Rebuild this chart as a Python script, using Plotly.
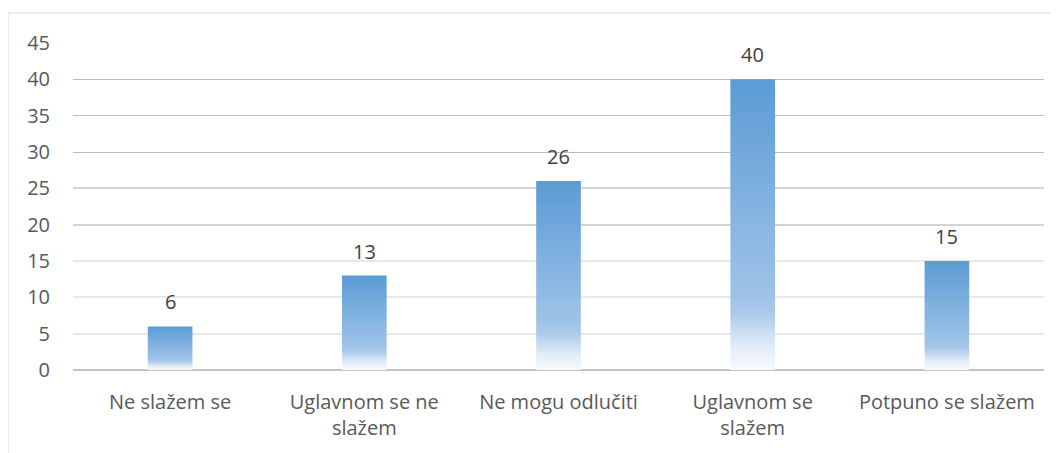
import plotly.graph_objects as go

categories = ["Ne slažem se", "Uglavnom se ne<br>slažem", "Ne mogu odlučiti", "Uglavnom se<br>slažem", "Potpuno se slažem"]
values = [6, 13, 26, 40, 15]
y_ticks = [0, 5, 10, 15, 20, 25, 30, 35, 40, 45]
grid_mid = [20, 25]
grid_light = [5, 10, 15]

BAR_W = 0.23
FONT = "Open Sans"
Y_RANGE = [0, 45]
grad = [[0.0, "#f7fafd"], [0.08, "#e3edf8"], [0.2, "#a9c9ea"], [0.25, "#9fc3e8"], [1.0, "#5b9bd5"]]

fig = go.Figure()
# invisible anchor traces so the overlay grid axes get drawn
for ax in ["y3", "y4"]:
    fig.add_trace(go.Scatter(x=[0], y=[0], yaxis=ax, mode="markers",
                             marker=dict(opacity=0), hoverinfo="skip", showlegend=False))

for i, v in enumerate(values):
    fig.add_trace(go.Scatter(
        x=[i - BAR_W / 2, i + BAR_W / 2, i + BAR_W / 2, i - BAR_W / 2, i - BAR_W / 2],
        y=[0, 0, v, v, 0],
        mode="lines", fill="toself", line=dict(width=0),
        fillgradient=dict(type="vertical", colorscale=grad),
        hoverinfo="skip", showlegend=False,
    ))

for i, v in enumerate(values):
    fig.add_annotation(x=i, y=v, text=str(v), showarrow=False, yanchor="bottom",
                       yshift=9, font=dict(family=FONT, size=20, color="#404040"))

# outer chart border (page body offsets the figure by 8px)
fig.add_shape(type="rect", xref="paper", yref="paper", x0=-0.067, x1=1.2, y0=-0.5, y1=1.092,
              line=dict(color="#d9d9d9", width=1), layer="below")

common = dict(range=Y_RANGE, fixedrange=True, zeroline=False, showline=False, ticks="")
fig.update_layout(
    width=1059, height=453,
    margin=dict(l=65, r=23, t=35, b=91),
    paper_bgcolor="white", plot_bgcolor="white",
    showlegend=False,
    xaxis=dict(range=[-0.5, 4.5], tickvals=list(range(len(categories))), ticktext=categories,
               showgrid=False, zeroline=False, showline=False, ticks="", ticklabelstandoff=18,
               tickfont=dict(family=FONT, size=20, color="#595959"), fixedrange=True),
    yaxis=dict(range=Y_RANGE, tickvals=y_ticks, showgrid=True, gridcolor="#bdbdbd", gridwidth=1,
               zeroline=True, zerolinecolor="#c4c4c4", zerolinewidth=2, showline=False, ticks="",
               ticklabelstandoff=22,
               tickfont=dict(family=FONT, size=20, color="#595959"), fixedrange=True),
    yaxis3=dict(overlaying="y", tickvals=grid_mid, showticklabels=False, showgrid=True,
                gridcolor="#d4d4d4", gridwidth=2, layer="below traces", **common),
    yaxis4=dict(overlaying="y", tickvals=grid_light, showticklabels=False, showgrid=True,
                gridcolor="#e8e8e8", gridwidth=2, layer="below traces", **common),
)

fig.write_html("out.html")
